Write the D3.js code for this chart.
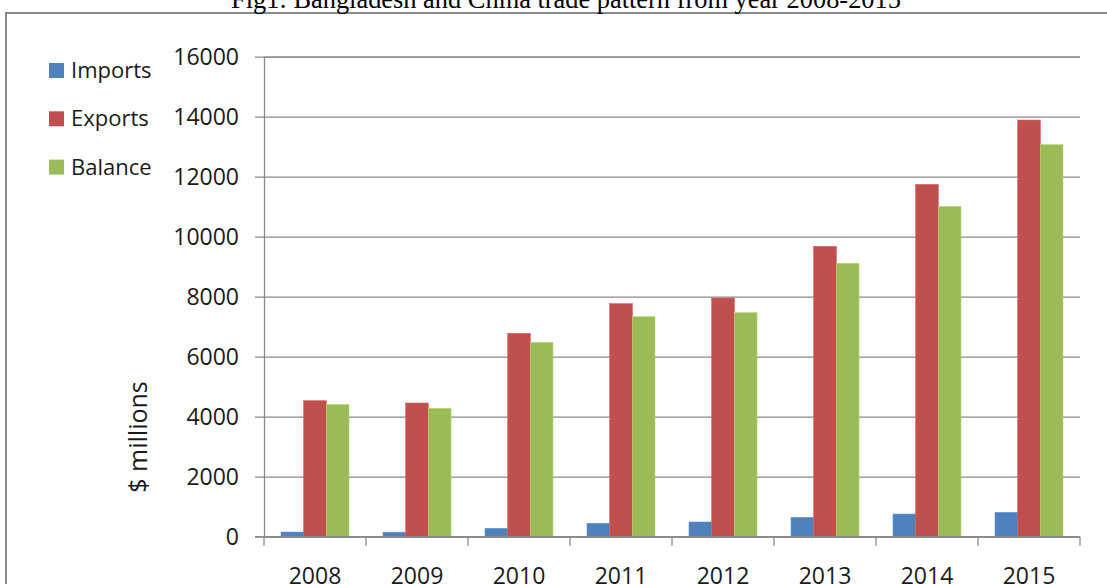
<!DOCTYPE html>
<html lang="en">
<head>
<meta charset="utf-8" />
<script type="text/javascript" src="https://d3js.org/d3.v7.min.js"></script>
<style type="text/css">
  body { margin: 0; background: #fff; }
  text { font-family: "Open Sans", sans-serif; fill: #1a1a1a; }
</style>
</head>
<body>
<script type="text/javascript">

var years = ["2008", "2009", "2010", "2011", "2012", "2013", "2014", "2015"];
var seriesNames = ["Imports", "Exports", "Balance"];
var imports = [155, 150, 280, 447, 490, 643, 755, 811];
var exports = [4533, 4456, 6780, 7767, 7957, 9678, 11744, 13889];
var balance = [4410, 4277, 6480, 7333, 7467, 9111, 11011, 13067];
var yTicks = [0, 2000, 4000, 6000, 8000, 10000, 12000, 14000, 16000];
var colors = ["#4f81bd", "#c0504d", "#9bbb59"];

var w = 1107;
var h = 584;
var plotLeft = 264, plotRight = 1080, plotTop = 56.7, plotBottom = 536.7;

var svg = d3.select("body")
            .append("svg")
            .attr("width", w)
            .attr("height", h);

//Outer frame (only top and left visible)
svg.append("path")
   .attr("d", "M6,1200 L6,13 L1200,13")
   .attr("fill", "none")
   .attr("stroke", "#8a8a8a")
   .attr("stroke-width", 2);

//Title, cut off at the top
svg.append("text")
   .attr("x", 566)
   .attr("y", 7.5)
   .style("text-anchor", "middle")
   .style("font-family", "'Liberation Serif', 'Times New Roman', serif")
   .style("font-size", "26.4px")
   .style("fill", "#000")
   .text("Fig1: Bangladesh and China trade pattern from year 2008-2015");

var x0 = d3.scaleBand()
           .domain(years)
           .range([plotLeft, plotRight])
           .paddingInner(1 / 3)
           .paddingOuter(1 / 6);

var x1 = d3.scaleBand()
           .domain(seriesNames)
           .range([0, x0.bandwidth()]);

var y = d3.scaleLinear()
          .domain([0, 16000])
          .range([plotBottom, plotTop]);

//Gridlines + y axis
var yAxis = d3.axisLeft(y)
              .tickValues(yTicks)
              .tickSize(-(plotRight - plotLeft))
              .tickFormat(d3.format("d"));

var gy = svg.append("g")
            .attr("transform", "translate(" + plotLeft + ",0)")
            .call(yAxis);
gy.select(".domain").attr("stroke", "#8a8a8a").attr("stroke-width", 1.3);
gy.selectAll(".tick line").attr("stroke", "#8a8a8a").attr("stroke-width", 1.3).attr("x2", plotRight - plotLeft).attr("x1", -9);
gy.selectAll(".tick text")
  .style("font-size", "23px")
  .style("font-family", "'Open Sans', sans-serif")
  .style("fill", "#1a1a1a")
  .attr("x", -25)
  .attr("dy", "0.34em");

//Bars
var table = years.map(function(yr, i) {
  return { year: yr, values: [imports[i], exports[i], balance[i]] };
});

var groups = svg.selectAll("g.year")
                .data(table)
                .enter()
                .append("g")
                .attr("class", "year")
                .attr("transform", function(d) { return "translate(" + x0(d.year) + ",0)"; });

groups.selectAll("rect")
      .data(function(d) {
        return d.values.map(function(v, k) { return { name: seriesNames[k], value: v, k: k }; });
      })
      .enter()
      .append("rect")
      .attr("x", function(d) { return x1(d.name); })
      .attr("y", function(d) { return y(d.value); })
      .attr("width", x1.bandwidth())
      .attr("height", function(d) { return y(0) - y(d.value); })
      .attr("fill", function(d) { return colors[d.k]; })
      .attr("stroke", function(d) { return d3.color(colors[d.k]).brighter(0.4); })
      .attr("stroke-width", 0.6);

//X axis line and ticks at category boundaries
svg.append("line")
   .attr("x1", plotLeft - 9).attr("x2", plotRight)
   .attr("y1", y(0)).attr("y2", y(0))
   .attr("stroke", "#8a8a8a").attr("stroke-width", 1.3);

var bounds = d3.range(years.length + 1).map(function(i) { return plotLeft + i * x0.step(); });
svg.selectAll("line.xtick")
   .data(bounds)
   .enter()
   .append("line")
   .attr("class", "xtick")
   .attr("x1", function(d) { return d; }).attr("x2", function(d) { return d; })
   .attr("y1", y(0)).attr("y2", y(0) + 9)
   .attr("stroke", "#8a8a8a").attr("stroke-width", 1.3);

svg.selectAll("text.xlabel")
   .data(years)
   .enter()
   .append("text")
   .attr("class", "xlabel")
   .attr("x", function(d) { return x0(d) + x0.bandwidth() / 2; })
   .attr("y", 584)
   .style("text-anchor", "middle")
   .style("font-size", "23px")
   .text(function(d) { return d; });

//Y axis title
svg.append("text")
   .attr("transform", "translate(147,437) rotate(-90)")
   .style("text-anchor", "middle")
   .style("font-size", "25px")
   .text("$ millions");

//Legend
var legend = svg.selectAll("g.legend")
                .data(seriesNames)
                .enter()
                .append("g")
                .attr("class", "legend")
                .attr("transform", function(d, i) { return "translate(49," + (63 + i * 48.3) + ")"; });
legend.append("rect")
      .attr("width", 15).attr("height", 15)
      .attr("fill", function(d, i) { return colors[i]; });
legend.append("text")
      .attr("x", 22).attr("y", 15)
      .style("font-size", "22px")
      .text(function(d) { return d; });

</script>
</body>
</html>
